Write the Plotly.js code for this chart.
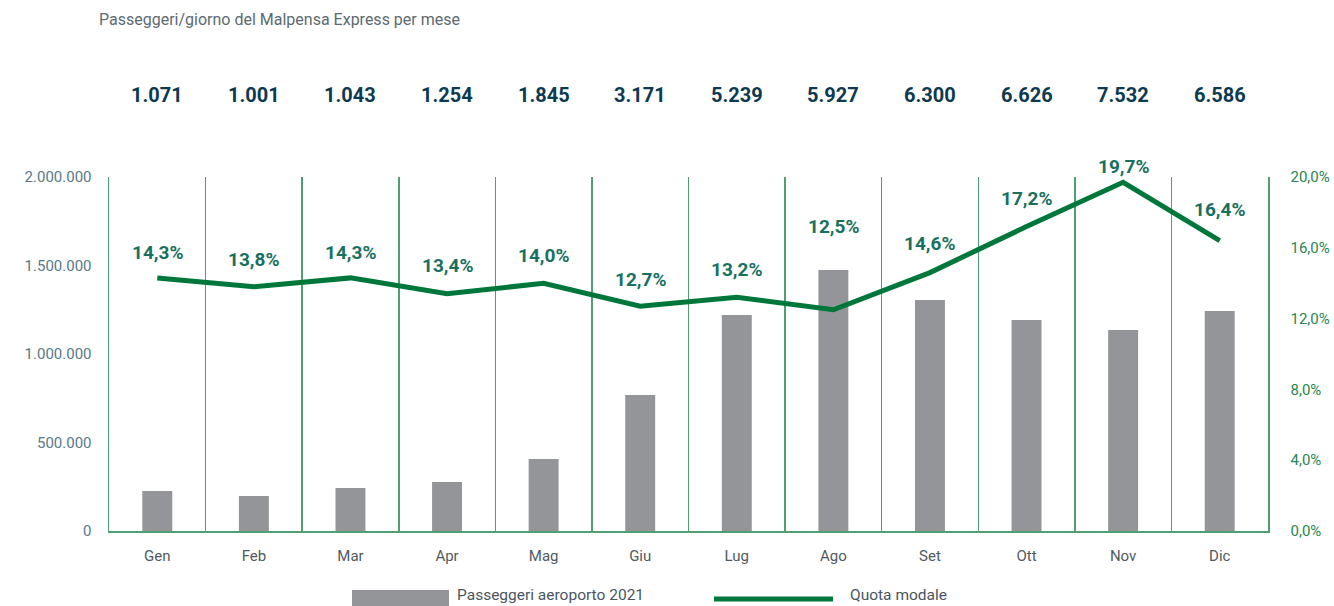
<!DOCTYPE html>
<html><head><meta charset="utf-8">
<script src="https://cdn.plot.ly/plotly-3.0.1.min.js"></script>
<style>html,body{margin:0;padding:0;background:#fff;}#chart{width:1334px;height:606px;}</style>
</head><body><div id="chart"></div>
<script>
const months = ["Gen","Feb","Mar","Apr","Mag","Giu","Lug","Ago","Set","Ott","Nov","Dic"];
const airportPassengers = [226000,198000,243000,277000,407000,768000,1220000,1475000,1305000,1192000,1136000,1243000];
const modalShare = [14.3,13.8,14.3,13.4,14.0,12.7,13.2,12.5,14.6,17.2,19.7,16.4];
const dailyMXP = ["1.071","1.001","1.043","1.254","1.845","3.171","5.239","5.927","6.300","6.626","7.532","6.586"];
const leftTicks = [0,500000,1000000,1500000,2000000];
const rightTicks = [0,4,8,12,16,20];

// label placement (style): pixel lift of each share label above its point
const labelLift = [25,27,25,28,28,27,28,83,29,28,16,31];

const FONT = "Roboto, 'DejaVu Sans', sans-serif";
const GRID = "#4f9f72";
const fmtPct = v => v.toFixed(1).replace(".",",")+"%";

const traces = [
  {type:"bar", x:months, y:airportPassengers, name:"Passeggeri aeroporto 2021",
   marker:{color:"#939598"}, width:0.31, yaxis:"y", hoverinfo:"skip", showlegend:false},
  {type:"scatter", mode:"lines", x:months, y:modalShare, name:"Quota modale", yaxis:"y2",
   line:{color:"#00773a", width:5}, hoverinfo:"skip", showlegend:false, cliponaxis:false}
];

const annotations = [];
months.forEach((m,i)=>{
  annotations.push({x:m, y:modalShare[i], xref:"x", yref:"y2", yshift:labelLift[i], showarrow:false,
    text:"<b>"+fmtPct(modalShare[i])+"</b>",
    font:{family:FONT, size:19, color:"#177060"}});
  annotations.push({x:m, y:(531-95)/354, xref:"x", yref:"paper", yanchor:"middle", showarrow:false,
    text:"<b>"+dailyMXP[i]+"</b>", font:{family:FONT, size:20, color:"#0e3a50"}});
});

annotations.push({xref:"paper", yref:"paper", x:(455-109)/1159, y:(531-595)/354, xanchor:"left", yanchor:"middle",
  showarrow:false, text:"Passeggeri aeroporto 2021", font:{family:FONT, size:15.5, color:"#4a5560"}});
annotations.push({xref:"paper", yref:"paper", x:(848-109)/1159, y:(531-595)/354, xanchor:"left", yanchor:"middle",
  showarrow:false, text:"Quota modale", font:{family:FONT, size:15.5, color:"#4a5560"}});

const shapes = [
  {type:"rect", xref:"paper", yref:"paper", x0:(352-109)/1159, x1:(449-109)/1159, y0:(531-590)/354, y1:(531-612)/354,
   fillcolor:"#939598", line:{width:0}},
  {type:"line", xref:"paper", yref:"paper", x0:(714-109)/1159, x1:(833-109)/1159, y0:(531-599)/354, y1:(531-599)/354,
   line:{color:"#00773a", width:5}}
];

const layout = {
  width:1334, height:606,
  margin:{l:109, r:66, t:177, b:75},
  paper_bgcolor:"#fff", plot_bgcolor:"#fff",
  separators:",.",
  font:{family:FONT},
  title:{text:"Passeggeri/giorno del Malpensa Express per mese", xref:"container", yref:"container",
    x:99/1334, xanchor:"left", y:1-19/606, yanchor:"middle", font:{family:FONT, size:16, color:"#5d6a72"}},
  xaxis:{type:"category", range:[-0.5,11.5], showgrid:true, gridcolor:GRID, gridwidth:1.5, tickson:"boundaries",
    ticks:"", showline:true, linecolor:GRID, linewidth:2, zeroline:false, ticklabelstandoff:10,
    tickfont:{family:FONT, size:15, color:"#4f5a62"}, fixedrange:true},
  yaxis:{range:[0,2000000], tickvals:leftTicks, tickformat:",d", showgrid:false, zeroline:false,
    showline:true, linecolor:GRID, linewidth:1.5, ticks:"", ticklabelstandoff:13,
    tickfont:{family:FONT, size:15, color:"#5a788a"}},
  yaxis2:{range:[0,20], tickvals:rightTicks, ticktext:rightTicks.map(fmtPct), overlaying:"y", side:"right",
    showgrid:false, zeroline:false, showline:true, linecolor:GRID, linewidth:1.5, ticks:"", ticklabelstandoff:18,
    tickfont:{family:FONT, size:15, color:"#2a8652"}},
  annotations:annotations,
  shapes:shapes,
  showlegend:false
};

Plotly.newPlot("chart", traces, layout, {displayModeBar:false, staticPlot:true});
</script></body></html>
